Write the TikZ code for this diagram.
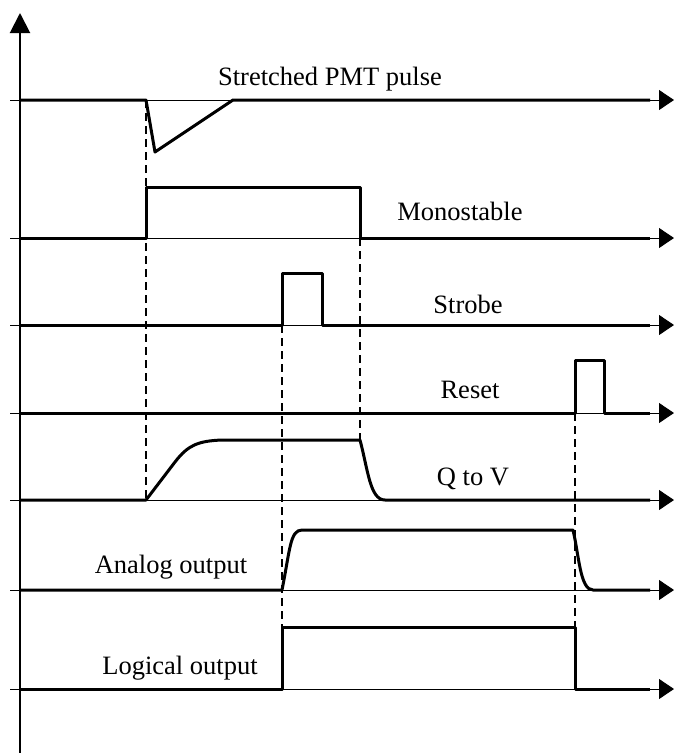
\documentclass[tikz,border=0pt]{standalone}
\usepackage{fontspec}
\setmainfont{Liberation Serif}
\usetikzlibrary{arrows.meta}

\begin{document}
\begin{tikzpicture}[x=1pt,y=-1pt,font=\fontsize{26.5}{31}\selectfont,
  sig/.style={line width=3pt,line join=round},
  timeaxis/.style={line width=1pt,-{Triangle[length=15pt,width=20pt]}},
  guide/.style={line width=1.6pt,dash pattern=on 8pt off 5pt}]
 \useasboundingbox (0,0) rectangle (674,753);
 % axes
 \draw[line width=2pt,-{Triangle[length=20pt,width=20pt]}] (20,753)--(20,13);
 \foreach \y in {100,238,325,413,500,590,689}
   {\draw[timeaxis] (10,\y)--(674,\y);}
 % signals
 \draw[sig] (20,100)--(146,100)--(155,152)--(233,100)--(650,100);
 \draw[sig] (20,238)--(146,238)--(146,187)--(360,187)--(360,238)--(650,238);
 \draw[sig] (20,325)--(282,325)--(282,273)--(322,273)--(322,325)--(650,325);
 \draw[sig] (20,413)--(575,413)--(575,360)--(604,360)--(604,413)--(650,413);
 \draw[sig] (20,500)--(146,500)--(175,462) .. controls (188,445) and (198,441) .. (222,440)
   --(360,440) .. controls (368,470) and (370,500) .. (385,500)--(650,500);
 \draw[sig] (20,590)--(282,590) .. controls (290,550) and (290,530) .. (302,530)
   --(573,530) .. controls (579,555) and (580,590) .. (593,590)--(650,590);
 \draw[sig] (20,689)--(282,689)--(282,627)--(575,627)--(575,689)--(650,689);
 % timing guides
 \draw[guide] (146,100)--(146,500);
 \draw[guide] (360,238)--(360,440);
 \draw[guide] (282,325)--(282,627);
 \draw[guide] (575,413)--(575,627);
 % labels
 \node[anchor=base] (pmt) at (330,85) {Stretched PMT pulse};
 \node[anchor=base] (mono) at (460,220) {Monostable};
 \node[anchor=base] (strobe) at (468,313) {Strobe};
 \node[anchor=base] (reset) at (470,398) {Reset};
 \node[anchor=base] (qtov) at (473,485) {Q to V};
 \node[anchor=base] (analog) at (171,573) {Analog output};
 \node[anchor=base] (logic) at (180,674) {Logical output};
\end{tikzpicture}
\end{document}
